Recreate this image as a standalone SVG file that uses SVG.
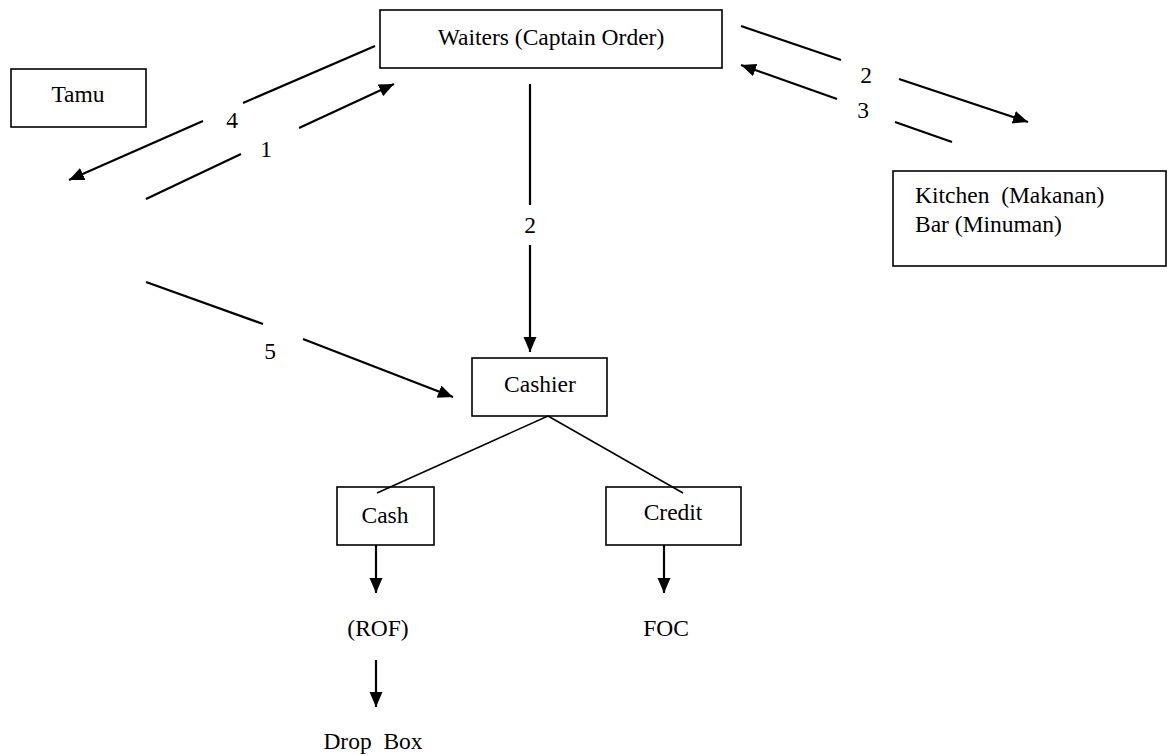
<svg xmlns="http://www.w3.org/2000/svg" width="1167" height="755" viewBox="0 0 1167 755">
<style>
.box{fill:#fff;stroke:#000;stroke-width:1.6}
text{font-family:'Liberation Serif','DejaVu Serif',serif;font-size:23.5px;fill:#000}
.m{text-anchor:middle}
.ln{stroke:#000;stroke-width:2.2;fill:none}
.thin{stroke:#000;stroke-width:1.5;fill:none}
</style>
<defs>
<marker id="ah" markerUnits="userSpaceOnUse" markerWidth="16" markerHeight="14" refX="15" refY="6.5" orient="auto">
<path d="M0,0 L15,6.5 L0,13 z" fill="#000"/>
</marker>
</defs>
<rect width="1167" height="755" fill="#fff"/>
<g font-family="Liberation Serif">
<g id="waiters"><rect class="box" x="380" y="10" width="342" height="58"/><text class="m" x="551" y="45">Waiters (Captain Order)</text></g>
<g id="tamu"><rect class="box" x="11" y="69" width="135" height="58"/><text class="m" x="78" y="102">Tamu</text></g>
<g id="kitchen"><rect class="box" x="893" y="171" width="273" height="95"/><text x="915" y="203" xml:space="preserve">Kitchen  (Makanan)</text><text x="915" y="232">Bar (Minuman)</text></g>
<g id="cashier"><rect class="box" x="472" y="358" width="135" height="58"/><text class="m" x="540" y="392">Cashier</text></g>
<g id="cash"><rect class="box" x="337" y="487" width="97" height="58"/><text class="m" x="385" y="523">Cash</text></g>
<g id="credit"><rect class="box" x="606" y="487" width="135" height="58"/><text class="m" x="673" y="520">Credit</text></g>
<g id="rof"><text class="m" x="378" y="636">(ROF)</text></g>
<g id="foc"><text class="m" x="666" y="636">FOC</text></g>
<g id="dropbox"><text class="m" x="373" y="749" xml:space="preserve">Drop  Box</text></g>
<g id="connectors">
<line class="ln" x1="375" y1="46" x2="243" y2="103"/>
<line class="ln" x1="203" y1="121" x2="69" y2="180" marker-end="url(#ah)"/>
<text class="m" x="232" y="128">4</text>
<line class="ln" x1="146" y1="199" x2="241" y2="154"/>
<line class="ln" x1="299" y1="128" x2="394" y2="84" marker-end="url(#ah)"/>
<text class="m" x="266" y="157">1</text>
<line class="ln" x1="741" y1="26" x2="841" y2="60"/>
<line class="ln" x1="899" y1="79" x2="1028" y2="122" marker-end="url(#ah)"/>
<text class="m" x="866" y="83">2</text>
<line class="ln" x1="952" y1="142" x2="895" y2="122"/>
<line class="ln" x1="837" y1="99" x2="741" y2="65" marker-end="url(#ah)"/>
<text class="m" x="863" y="118">3</text>
<line class="ln" x1="530" y1="84" x2="530" y2="205"/>
<line class="ln" x1="530" y1="245" x2="530" y2="352" marker-end="url(#ah)"/>
<text class="m" x="530" y="233">2</text>
<line class="ln" x1="146" y1="282" x2="263" y2="324"/>
<line class="ln" x1="303" y1="339" x2="453" y2="397" marker-end="url(#ah)"/>
<text class="m" x="270" y="359">5</text>
<line class="thin" x1="548" y1="416" x2="377" y2="493"/>
<line class="thin" x1="548" y1="416" x2="683" y2="493"/>
<line class="ln" x1="376" y1="545" x2="376" y2="593" marker-end="url(#ah)"/>
<line class="ln" x1="664" y1="545" x2="664" y2="593" marker-end="url(#ah)"/>
<line class="ln" x1="376" y1="660" x2="376" y2="707" marker-end="url(#ah)"/>
</g>
</g>
</svg>
